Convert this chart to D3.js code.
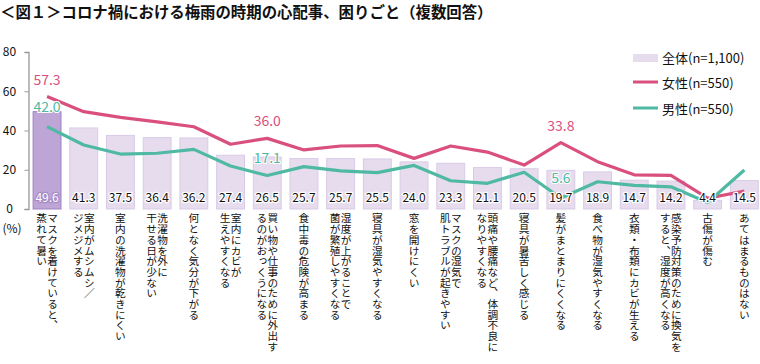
<!DOCTYPE html>
<html><head><meta charset="utf-8">
<script src="https://cdn.jsdelivr.net/npm/d3@7"></script>
<style>
body{margin:0;background:#fff;}
text{font-family:"Noto Sans CJK JP","Noto Sans",sans-serif;}
</style></head>
<body><svg id="c" width="760" height="364"></svg>
<script>
const categories = [
  ["マスクを着けていると、","蒸れて暑い"],
  ["室内がムシムシ／","ジメジメする"],
  ["室内の洗濯物が乾きにくい"],
  ["洗濯物を外に","干せる日が少ない"],
  ["何となく気分が下がる"],
  ["室内にカビが","生えやすくなる"],
  ["買い物や仕事のために外出す","るのがおっくうになる"],
  ["食中毒の危険が高まる"],
  ["湿度が上がることで","菌が繁殖しやすくなる"],
  ["寝具が湿気やすくなる"],
  ["窓を開けにくい"],
  ["マスクの湿気で","肌トラブルが起きやすい"],
  ["頭痛や腰痛など、体調不良に","なりやすくなる"],
  ["寝具が暑苦しく感じる"],
  ["髪がまとまりにくくなる"],
  ["食べ物が湿気やすくなる"],
  ["衣類・布類にカビが生える"],
  ["感染予防対策のために換気を","すると、湿度が高くなる"],
  ["古傷が傷む"],
  ["あてはまるものはない"]
];
const totalValues  = [49.6,41.3,37.5,36.4,36.2,27.4,26.5,25.7,25.7,25.5,24.0,23.3,21.1,20.5,19.7,18.9,14.7,14.2,4.4,14.5];
const femaleValues = [57.3,49.6,46.7,44.4,41.9,33.0,36.0,30.1,32.1,32.3,25.8,32.1,29.0,22.4,33.8,24.1,17.4,17.1,5.5,9.1];
const maleValues   = [42.0,32.6,28.0,28.4,30.4,21.9,17.1,21.6,19.4,18.5,22.2,14.4,13.1,18.7,5.6,13.9,12.0,11.3,3.3,19.9];
const yTicks = [0,20,40,60,80];
const seriesNames = ["全体(n=1,100)","女性(n=550)","男性(n=550)"];
const title = "＜図１＞コロナ禍における梅雨の時期の心配事、困りごと（複数回答）";
const femaleLabelIdx = [0,6,14];
const maleLabelIdx = [0,6,14];

const pink = "#d9507d", teal = "#4fb9a3";
const svg = d3.select("#c");

svg.append("text").attr("x",0).attr("y",18).attr("font-size",15.4).attr("font-weight","bold")
  .attr("fill","#111").text(title);

const x = d3.scaleBand().domain(d3.range(categories.length)).range([28.7, 28.7+20*36.7]).paddingInner(0.24).paddingOuter(0.12);
const y = d3.scaleLinear().domain([0,80]).range([209,52]);
const cx = i => x(i) + x.bandwidth()/2;

// axis
const ax = svg.append("g").attr("transform","translate(28.5,0)")
  .call(d3.axisLeft(y).tickValues(yTicks).tickSize(4).tickPadding(4));
ax.select(".domain").attr("stroke","#999").attr("stroke-width",1.3);
ax.selectAll(".tick line").attr("stroke","#999");
ax.selectAll(".tick text").attr("font-size",12).attr("fill","#111")
  .attr("font-family","'Noto Sans CJK JP',sans-serif").attr("text-anchor","middle").attr("x",-19);
svg.append("text").attr("x",12).attr("y",233).attr("text-anchor","middle").attr("font-size",12).attr("fill","#111").text("(%)");

// bars
svg.selectAll("rect.bar").data(totalValues).join("rect").attr("class","bar")
  .attr("x",(d,i)=>x(i)).attr("width",x.bandwidth())
  .attr("y",d=>y(d)).attr("height",d=>y(0)-y(d))
  .attr("fill",(d,i)=>i===0?"#bda5d5":"#e6dcee")
  .attr("stroke",(d,i)=>i===0?"#9f80c4":"#d9cbe7").attr("stroke-width",1);

// lines
const line = d3.line().x((d,i)=>cx(i)).y(d=>y(d));
svg.append("path").datum(femaleValues).attr("d",line).attr("fill","none").attr("stroke",pink).attr("stroke-width",3.2).attr("stroke-linejoin","round");
svg.append("path").datum(maleValues).attr("d",line).attr("fill","none").attr("stroke",teal).attr("stroke-width",3.2).attr("stroke-linejoin","round");

// bar value labels
svg.selectAll("text.val").data(totalValues).join("text").attr("class","val")
  .attr("x",(d,i)=>cx(i)).attr("y",202).attr("text-anchor","middle").attr("font-size",12)
  .attr("fill",(d,i)=>i===0?"#fff":"#111")
  .attr("stroke",(d,i)=>i===0?"#a68bc8":"#fff").attr("stroke-width",2.5).attr("paint-order","stroke")
  .attr("stroke-linejoin","round")
  .text(d=>d.toFixed(1));

// line labels
femaleLabelIdx.forEach(i=>{
  svg.append("text").attr("x",cx(i)).attr("y",y(femaleValues[i])-12).attr("text-anchor","middle")
    .attr("font-size",14).attr("fill",pink).text(femaleValues[i].toFixed(1));
});
maleLabelIdx.forEach((i,k)=>{
  svg.append("text").attr("x",cx(i)).attr("y",y(maleValues[i])-(i===6?12:15)).attr("text-anchor","middle")
    .attr("font-size",14).attr("fill",teal)
    .attr("stroke","#fff").attr("stroke-width",2).attr("paint-order","stroke")
    .text(maleValues[i].toFixed(1));
});

// x labels (vertical)
categories.forEach((lines,i)=>{
  const n = lines.length;
  lines.forEach((t,j)=>{
    const off = n===1?0:(j===0?5.5:-5.5);
    svg.append("text").attr("x",cx(i)+off).attr("y",213)
      .style("writing-mode","vertical-rl").attr("font-size",10.7).attr("fill","#111")
      .attr("text-anchor","start").text(t);
  });
});

// legend
const lg = svg.append("g");
lg.append("rect").attr("x",633).attr("y",54).attr("width",25).attr("height",8).attr("fill","#e6dcee");
lg.append("line").attr("x1",633).attr("x2",658).attr("y1",82).attr("y2",82).attr("stroke",pink).attr("stroke-width",3);
lg.append("line").attr("x1",633).attr("x2",658).attr("y1",108).attr("y2",108).attr("stroke",teal).attr("stroke-width",3);
seriesNames.forEach((s,k)=>{
  lg.append("text").attr("x",662).attr("y",58+k*25.5).attr("dy","0.35em").attr("font-size",13).attr("fill","#111").text(s);
});
</script></body></html>
